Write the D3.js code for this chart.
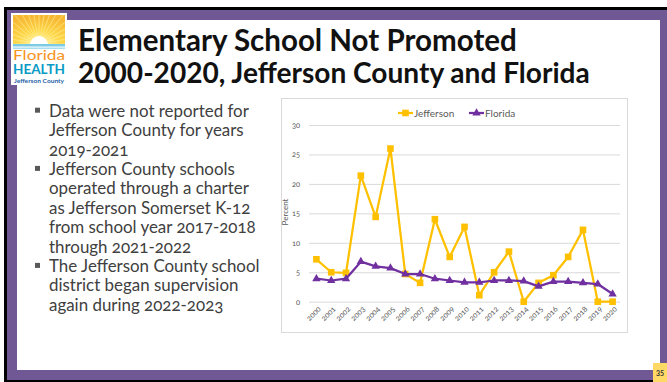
<!DOCTYPE html>
<html><head><meta charset="utf-8">
<script src="https://cdn.jsdelivr.net/npm/d3@7"></script>
<style>
body{margin:0;background:#fff;}
svg{display:block;}
.onum{font-variant-numeric:oldstyle-nums;font-feature-settings:"onum" 1;}
</style>
</head><body>
<svg id="c" width="667" height="382"></svg>
<script>
// ---------- data ----------
const years = ["2000","2001","2002","2003","2004","2005","2006","2007","2008","2009","2010",
               "2011","2012","2013","2014","2015","2016","2017","2018","2019","2020"];
const jefferson = [7.2,5.0,4.9,21.4,14.4,26.0,4.7,3.2,14.0,7.6,12.7,1.1,5.0,8.5,0,3.2,4.5,7.6,12.2,0,0];
const florida   = [3.9,3.6,3.9,6.8,6.0,5.7,4.7,4.7,3.9,3.6,3.3,3.3,3.6,3.6,3.5,2.6,3.4,3.4,3.2,3.0,1.3];
const yTicks = [0,5,10,15,20,25,30];
const seriesNames = ["Jefferson","Florida"];
const yTitle = "Percent";
const titleLines = ["Elementary School Not Promoted","2000-2020, Jefferson County and Florida"];
const bullets = [
  ["Data were not reported for","Jefferson County for years","2019-2021"],
  ["Jefferson County schools","operated through a charter","as Jefferson Somerset K-12","from school year 2017-2018","through 2021-2022"],
  ["The Jefferson County school","district began supervision","again during 2022-2023"]
];
const pageNumber = "35";

// ---------- styles ----------
const gold = "#FFC000", purple = "#7030A0", frame = "#6F5893";
const svg = d3.select("#c");

// ---------- slide frame ----------
svg.append("rect").attr("x",4).attr("y",7).attr("width",680).attr("height",380).attr("fill","#000");
svg.append("rect").attr("x",7).attr("y",10).attr("width",680).attr("height",370).attr("fill",frame);
svg.append("rect").attr("x",17).attr("y",20).attr("width",643).attr("height",350).attr("fill","#fff");
svg.append("rect").attr("x",653).attr("y",363).attr("width",14).attr("height",19).attr("fill","#FFD966");
svg.append("text").attr("x",660).attr("y",375.5).attr("text-anchor","middle")
  .attr("font-family","Lato, sans-serif").attr("font-size",7).attr("font-weight",700)
  .attr("fill","#333").text(pageNumber);

// ---------- logo ----------
const logo = svg.append("g");
logo.append("rect").attr("x",11).attr("y",13).attr("width",56).attr("height",72).attr("fill","#fff");
const defs = svg.append("defs");
const rg = defs.append("radialGradient").attr("id","sunG").attr("cx","50%").attr("cy","95%").attr("r","90%");
rg.append("stop").attr("offset","0%").attr("stop-color","#FFF6B0");
rg.append("stop").attr("offset","45%").attr("stop-color","#FFD84A");
rg.append("stop").attr("offset","100%").attr("stop-color","#F7B733");
defs.append("clipPath").attr("id","sunClip").append("rect").attr("x",13).attr("y",15).attr("width",52).attr("height",30);
logo.append("rect").attr("x",13).attr("y",15).attr("width",52).attr("height",30).attr("fill","url(#sunG)");
const rays = logo.append("g").attr("clip-path","url(#sunClip)");
d3.range(0,19).forEach(i=>{
  const a = Math.PI + i*Math.PI/18;
  rays.append("line").attr("x1",39).attr("y1",44).attr("x2",39+60*Math.cos(a)).attr("y2",44+60*Math.sin(a))
    .attr("stroke","#FFF3A0").attr("stroke-width",1).attr("opacity",0.6);
});
rays.append("circle").attr("cx",39).attr("cy",45).attr("r",9).attr("fill","#fff");
logo.append("rect").attr("x",13).attr("y",44).attr("width",52).attr("height",2.5).attr("fill","#7CCBE6");
logo.append("rect").attr("x",13).attr("y",47.5).attr("width",52).attr("height",1.5).attr("fill","#A8DDF0");
logo.append("text").attr("x",39).attr("y",59.5).attr("text-anchor","middle")
  .attr("font-family","Lato, sans-serif").attr("font-size",12.5).attr("font-weight",400)
  .attr("fill","#F7941D").attr("textLength",52).attr("lengthAdjust","spacingAndGlyphs").text("Florida");
logo.append("text").attr("x",39).attr("y",73.5).attr("text-anchor","middle")
  .attr("font-family","Lato, sans-serif").attr("font-size",12.5).attr("font-weight",700)
  .attr("fill","#0A9BC4").attr("textLength",52).attr("lengthAdjust","spacingAndGlyphs").text("HEALTH");
logo.append("text").attr("x",39).attr("y",82.5).attr("text-anchor","middle")
  .attr("font-family","Lato, sans-serif").attr("font-size",5).attr("font-weight",700)
  .attr("fill","#1F5FA8").attr("textLength",50).attr("lengthAdjust","spacingAndGlyphs").text("Jefferson County");

// ---------- title ----------
const titleWidths = [439, 512];
const titleBase = [51, 83];
titleLines.forEach((t,i)=>{
  const tx = svg.append("text").attr("x",78).attr("y",titleBase[i])
    .attr("font-family","Lato, sans-serif").attr("font-weight",700).attr("font-size",28)
    .attr("fill","#111").text(t);
  const w = tx.node().getComputedTextLength();
  tx.attr("font-size", 28*titleWidths[i]/w);
});

// ---------- bullets ----------
const bg = svg.append("g").attr("font-family","Lato, sans-serif").attr("fill","#404040");
let probe = bg.append("text").attr("font-size",16).text("operated through a charter");
const bfs = 16*200/probe.node().getComputedTextLength();
probe.remove();
const lineH = 19.4, paraGap = 0;
let yb = 116.7;
bullets.forEach((para,pi)=>{
  bg.append("rect").attr("x",35).attr("y",yb-9).attr("width",5).attr("height",5).attr("fill","#595959");
  para.forEach((ln,li)=>{
    bg.append("text").attr("class","onum").attr("x",49).attr("y",yb).attr("font-size",bfs).text(ln);
    yb += lineH;
  });
  yb += paraGap;
});

// ---------- chart ----------
svg.append("rect").attr("x",281.5).attr("y",98.5).attr("width",346).attr("height",234)
  .attr("fill","#fff").attr("stroke","#D9D9D9").attr("stroke-width",1);

const plotL = 309, plotR = 620, y0 = 301.7, y30 = 125;
const x = d3.scaleBand().domain(years).range([plotL, plotR]).padding(0);
const cx = d => x(d) + x.bandwidth()/2;
const y = d3.scaleLinear().domain([0,30]).range([y0, y30]);

const gy = svg.append("g").attr("transform",`translate(${plotL},0)`)
  .call(d3.axisLeft(y).tickValues(yTicks).tickSize(-(plotR-plotL)).tickPadding(9));
gy.select(".domain").remove();
gy.selectAll(".tick line").attr("stroke","#D9D9D9").attr("stroke-width",1);
gy.selectAll(".tick text").attr("class","onum").attr("fill","#595959")
  .attr("font-family","Lato, sans-serif").attr("font-size",7.5);

const gx = svg.append("g").attr("transform",`translate(0,${y0})`)
  .call(d3.axisBottom(x).tickSize(0));
gx.select(".domain").remove();
gx.selectAll(".tick text").attr("class","onum").attr("fill","#595959")
  .attr("font-family","Lato, sans-serif").attr("font-size",7.8)
  .attr("text-anchor","end").attr("x",0).attr("y",0).attr("dy","0.35em")
  .attr("transform","translate(3,6) rotate(-45)");

svg.append("text").attr("transform","translate(288,212) rotate(-90)").attr("text-anchor","middle")
  .attr("font-family","Lato, sans-serif").attr("font-size",8).attr("fill","#595959").text(yTitle);

const line = d3.line().x((d,i)=>cx(years[i])).y(d=>y(d));
const sq = d3.symbol(d3.symbolSquare, 44);
const tri = d3.symbol(d3.symbolTriangle, 30);

svg.append("path").datum(jefferson).attr("d",line).attr("fill","none")
  .attr("stroke",gold).attr("stroke-width",2.25).attr("stroke-linejoin","round");
svg.append("g").selectAll("path").data(jefferson).join("path")
  .attr("transform",(d,i)=>`translate(${cx(years[i])},${y(d)})`).attr("d",sq).attr("fill",gold);

svg.append("path").datum(florida).attr("d",line).attr("fill","none")
  .attr("stroke",purple).attr("stroke-width",2.25).attr("stroke-linejoin","round");
svg.append("g").selectAll("path").data(florida).join("path")
  .attr("transform",(d,i)=>`translate(${cx(years[i])},${y(d)})`).attr("d",tri).attr("fill",purple);

// ---------- legend ----------
const legX = [398, 469];
const lg = svg.append("g").attr("font-family","Lato, sans-serif").attr("font-size",10).attr("fill","#595959");
seriesNames.forEach((n,i)=>{
  const col = i===0?gold:purple;
  lg.append("line").attr("x1",legX[i]).attr("x2",legX[i]+15).attr("y1",113).attr("y2",113)
    .attr("stroke",col).attr("stroke-width",2.25);
  lg.append("path").attr("transform",`translate(${legX[i]+7.5},113)`).attr("d",i===0?sq:tri).attr("fill",col);
  lg.append("text").attr("x",legX[i]+16).attr("y",113).attr("dy","0.35em").text(n);
});
</script>
</body></html>
